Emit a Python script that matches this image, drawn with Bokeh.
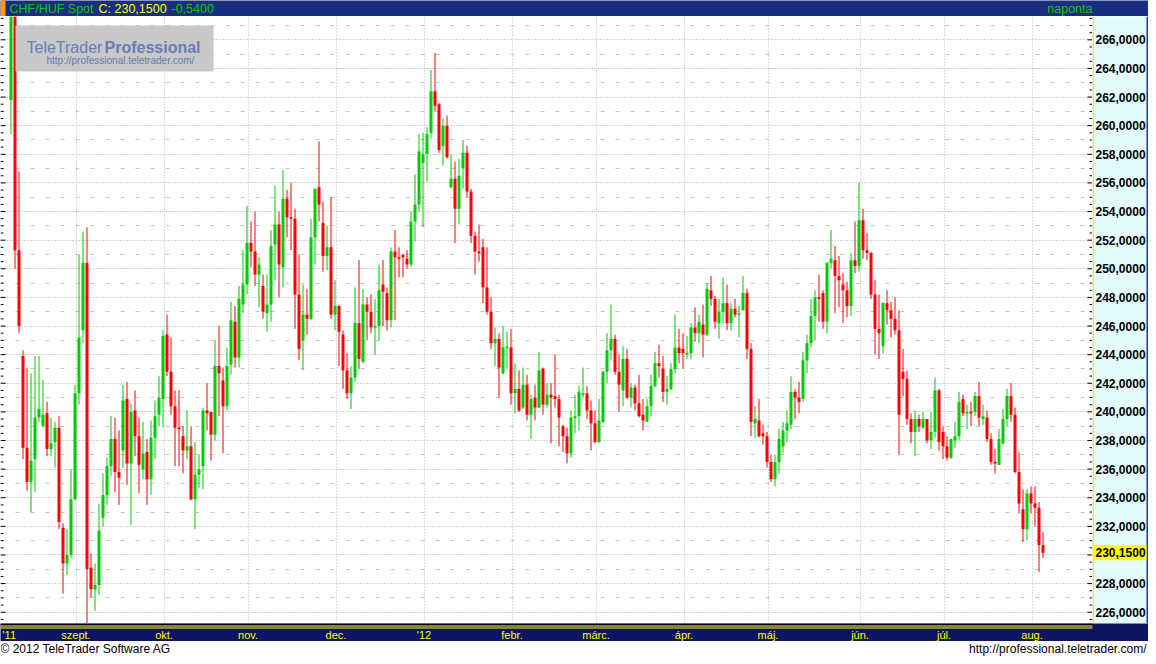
import numpy as np
from bokeh.plotting import figure
from bokeh.layouts import column, row
from bokeh.models import Range1d, ColumnDataSource, Grid, FixedTicker
from bokeh.core.properties import value
from bokeh.embed import file_html
from bokeh.resources import INLINE

# ---------------- data (CHF/HUF daily candles) ----------------
opens = [261.8, 270.0, 251.3, 243.9, 237.5, 235.1, 236.7, 239.6, 239.0, 239.9,
         237.4, 237.9, 238.9, 231.9, 229.4, 230.0, 233.9, 241.3, 245.7, 250.4,
         229.1, 227.6, 227.9, 232.6, 234.2, 236.2, 238.1, 235.8, 237.3, 240.9,
         236.4, 240.1, 238.3, 236.0, 237.2, 235.3, 238.2, 239.8, 240.9, 245.4,
         242.8, 240.4, 238.9, 238.3, 237.3, 237.6, 233.9, 235.6, 236.2, 240.1,
         240.0, 238.4, 243.2, 242.2, 240.4, 243.3, 246.3, 243.8, 247.5, 248.9,
         251.8, 251.2, 249.6, 248.8, 246.9, 247.5, 251.7, 253.1, 250.1, 254.9,
         253.6, 253.5, 248.2, 245.0, 246.8, 246.5, 252.2, 255.7, 253.2, 250.9,
         251.5, 246.8, 247.4, 245.4, 242.9, 241.3, 242.4, 246.2, 243.5, 247.5,
         247.0, 245.9, 246.0, 248.9, 248.3, 246.4, 251.2, 250.8, 251.0, 250.7,
         250.3, 253.3, 254.5, 257.4, 258.0, 259.5, 262.4, 261.5, 258.6, 260.0,
         255.7, 256.3, 254.2, 257.0, 258.1, 255.4, 252.3, 251.2, 251.5, 248.7,
         247.0, 244.8, 245.1, 242.7, 244.45, 244.5, 241.3, 241.6, 240.3, 241.9,
         239.8, 241.0, 240.3, 243.0, 240.5, 241.2, 241.1, 240.9, 239.0, 238.3,
         237.1, 239.56, 239.7, 241.2, 241.3, 240.1, 239.2, 237.9, 239.3, 242.8,
         244.3, 245.1, 242.8, 241.5, 243.7, 241.0, 241.7, 240.6, 239.8, 239.3,
         240.4, 241.8, 243.4, 243.0, 241.4, 241.6, 243.0, 244.5, 244.4, 244.0,
         244.1, 245.9, 245.5, 246.1, 245.4, 248.5, 247.9, 246.2, 247.0, 247.6,
         246.2, 247.2, 246.8, 247.1, 248.3, 244.4, 239.2, 239.4, 238.5, 238.3,
         236.5, 235.3, 236.5, 237.6, 238.7, 239.1, 241.4, 241.0, 240.9, 243.6,
         244.8, 246.7, 248.0, 248.3, 246.3, 250.4, 250.6, 249.5, 248.9, 248.5,
         247.4, 250.6, 250.2, 253.4, 251.3, 251.1, 248.2, 245.8, 244.6, 247.6,
         247.1, 246.5, 245.7, 242.8, 242.3, 239.5, 238.6, 239.5, 238.9, 239.5,
         238.0, 238.6, 241.5, 238.6, 237.6, 236.8, 238.0, 238.3, 240.9, 239.9,
         240.0, 240.0, 241.1, 239.5, 239.6, 238.1, 236.5, 236.3, 237.8, 239.5,
         241.1, 239.8, 235.8, 233.2, 231.8, 234.3, 233.6, 233.3, 230.69]
highs = [271.0, 273.0, 256.8, 244.3, 243.1, 242.7, 243.9, 243.9, 242.2, 240.7,
         239.6, 239.3, 239.7, 232.2, 231.8, 236.0, 241.9, 251.0, 252.6, 252.9,
         230.1, 229.4, 233.6, 235.7, 236.8, 239.7, 239.6, 238.7, 241.9, 242.1,
         240.6, 241.5, 239.6, 239.3, 238.1, 239.4, 240.8, 242.5, 245.7, 246.8,
         245.2, 241.5, 241.5, 239.0, 240.1, 239.0, 237.9, 237.0, 240.3, 242.0,
         240.0, 245.0, 246.0, 243.1, 244.5, 247.7, 247.4, 248.8, 251.3, 254.4,
         253.3, 254.0, 250.8, 249.6, 249.6, 252.7, 255.8, 254.0, 256.9, 255.5,
         256.0, 254.2, 251.0, 248.9, 248.6, 253.5, 255.6, 258.9, 254.7, 253.0,
         255.0, 249.2, 247.5, 245.7, 244.1, 243.2, 248.7, 250.6, 248.6, 248.0,
         248.2, 247.9, 250.3, 250.6, 248.7, 251.5, 252.7, 251.5, 251.0, 251.3,
         254.0, 256.6, 259.4, 259.5, 259.9, 263.9, 265.1, 261.6, 260.5, 260.7,
         258.0, 257.5, 257.7, 259.0, 258.6, 255.6, 252.6, 253.1, 252.1, 251.5,
         248.0, 245.9, 245.5, 246.0, 245.6, 245.8, 243.4, 242.9, 243.1, 242.6,
         241.2, 241.9, 244.2, 243.1, 242.0, 242.0, 244.0, 241.2, 239.1, 238.9,
         240.1, 241.2, 241.8, 243.1, 241.8, 240.8, 240.1, 240.9, 242.9, 245.5,
         247.5, 245.4, 244.0, 244.6, 244.4, 242.0, 241.9, 242.6, 240.9, 240.9,
         242.6, 244.2, 244.7, 243.9, 242.5, 243.4, 246.8, 245.8, 245.5, 245.3,
         246.2, 247.3, 246.8, 247.5, 249.0, 249.5, 248.1, 247.9, 249.4, 248.9,
         247.6, 247.9, 247.4, 249.5, 248.6, 244.8, 240.4, 240.9, 239.1, 238.6,
         237.0, 237.0, 238.8, 239.3, 240.1, 242.5, 241.6, 242.1, 244.2, 245.4,
         247.9, 248.5, 249.6, 248.5, 250.5, 252.7, 251.6, 250.9, 249.7, 249.1,
         251.1, 253.3, 256.0, 254.2, 252.5, 251.2, 249.2, 248.2, 247.7, 248.5,
         247.7, 248.0, 247.1, 244.4, 242.9, 239.9, 240.1, 239.8, 240.0, 239.5,
         240.0, 242.4, 241.6, 239.0, 238.3, 238.1, 239.3, 241.4, 241.2, 240.5,
         240.7, 241.4, 242.1, 240.5, 240.1, 238.5, 237.4, 238.8, 240.2, 241.6,
         242.0, 240.3, 237.2, 234.6, 234.6, 234.8, 234.8, 233.7, 231.6]
lows = [259.4, 250.0, 245.5, 236.7, 234.5, 233.0, 234.4, 239.3, 238.9, 236.9,
        236.9, 236.1, 231.8, 227.3, 228.6, 229.8, 233.8, 240.5, 244.8, 224.8,
        227.0, 226.1, 227.2, 232.0, 233.5, 235.5, 234.4, 233.5, 236.1, 234.9,
        232.1, 236.9, 234.3, 235.3, 233.5, 234.2, 236.7, 239.0, 238.9, 242.5,
        239.8, 236.2, 236.2, 235.7, 236.7, 233.8, 231.8, 234.7, 234.6, 238.7,
        236.6, 238.0, 239.7, 237.1, 240.1, 242.6, 243.1, 243.1, 246.9, 248.2,
        250.1, 248.8, 247.3, 246.5, 245.6, 246.3, 249.2, 248.0, 248.7, 252.2,
        251.3, 245.8, 243.6, 242.9, 245.4, 246.4, 250.3, 253.3, 249.8, 249.9,
        246.5, 245.7, 243.2, 241.6, 240.9, 240.2, 242.1, 243.0, 243.4, 245.0,
        245.5, 244.0, 245.0, 246.0, 245.7, 245.9, 246.4, 249.4, 249.4, 250.0,
        250.1, 251.9, 254.0, 252.9, 256.1, 259.1, 261.0, 258.1, 257.2, 257.7,
        255.6, 251.8, 253.1, 255.6, 255.0, 251.8, 249.6, 250.5, 247.6, 246.8,
        244.4, 243.2, 241.0, 242.6, 243.0, 240.5, 239.9, 240.0, 240.2, 239.4,
        238.1, 239.4, 240.3, 239.8, 240.3, 237.8, 240.3, 237.6, 237.2, 236.4,
        236.8, 238.5, 238.7, 241.0, 239.5, 237.3, 237.8, 237.8, 239.2, 242.0,
        243.6, 242.6, 240.0, 240.4, 240.9, 240.3, 240.1, 239.6, 238.7, 239.3,
        239.7, 241.7, 242.4, 240.7, 240.5, 241.5, 242.7, 243.4, 243.0, 243.7,
        243.7, 244.9, 244.8, 243.8, 245.3, 247.4, 245.8, 245.1, 246.2, 245.7,
        245.7, 246.6, 245.2, 247.1, 243.7, 238.3, 238.2, 238.2, 237.7, 236.1,
        235.1, 234.8, 235.7, 237.1, 237.9, 238.8, 239.5, 239.9, 240.7, 242.7,
        244.5, 245.0, 246.3, 245.8, 245.5, 250.0, 246.9, 247.3, 246.2, 246.6,
        246.7, 249.7, 249.8, 250.7, 250.6, 247.9, 244.0, 243.7, 244.1, 246.1,
        245.2, 245.4, 237.0, 241.1, 239.1, 237.8, 236.9, 238.6, 238.8, 237.8,
        237.4, 238.2, 237.3, 236.7, 236.6, 236.7, 237.5, 238.0, 239.7, 238.8,
        239.0, 239.7, 239.0, 239.1, 237.9, 236.3, 235.7, 236.3, 237.7, 239.0,
        239.3, 235.7, 232.9, 230.9, 231.0, 232.9, 232.0, 228.8, 229.8]
closes = [269.5, 251.3, 246.0, 237.5, 235.1, 236.6, 239.6, 240.2, 239.8, 237.4,
          237.8, 238.9, 232.3, 229.4, 230.0, 233.9, 241.3, 245.2, 250.4, 229.0,
          227.6, 227.9, 231.7, 234.2, 236.2, 238.1, 235.8, 235.4, 240.8, 236.4,
          240.0, 238.3, 236.3, 237.1, 235.3, 238.2, 239.7, 241.0, 245.3, 242.8,
          240.4, 238.9, 238.8, 237.3, 237.6, 233.9, 235.6, 236.0, 240.1, 239.9,
          238.4, 243.2, 242.7, 240.4, 243.2, 246.4, 243.8, 247.9, 248.9, 251.8,
          251.2, 249.6, 250.3, 247.0, 247.5, 251.6, 253.1, 250.3, 254.9, 253.6,
          253.5, 248.2, 244.4, 246.8, 246.5, 252.2, 255.6, 254.5, 250.9, 251.5,
          246.8, 247.4, 245.6, 242.9, 241.3, 242.4, 246.2, 243.7, 247.5, 247.0,
          245.9, 246.0, 248.5, 248.4, 246.4, 251.2, 250.8, 250.7, 250.8, 250.3,
          253.3, 254.5, 258.2, 258.0, 259.4, 262.4, 261.4, 258.3, 260.0, 257.8,
          256.3, 254.2, 256.5, 258.1, 255.4, 252.3, 251.2, 251.1, 248.7, 247.0,
          244.8, 245.1, 243.1, 244.5, 244.55, 241.3, 241.6, 240.1, 241.9, 239.8,
          240.9, 240.3, 242.9, 240.5, 241.2, 241.0, 240.9, 239.6, 238.3, 237.1,
          239.6, 239.7, 241.4, 241.3, 240.1, 239.2, 237.9, 239.4, 242.8, 244.3,
          245.1, 242.8, 241.9, 243.7, 241.0, 241.7, 240.6, 239.7, 239.4, 240.4,
          241.8, 243.4, 243.2, 241.4, 241.6, 243.0, 244.5, 244.1, 244.1, 244.1,
          245.9, 245.5, 246.3, 245.4, 248.6, 247.9, 246.3, 247.0, 247.6, 246.2,
          247.2, 246.8, 246.9, 248.3, 244.4, 239.3, 239.5, 238.3, 238.3, 236.5,
          235.3, 236.5, 238.1, 238.7, 239.2, 241.4, 241.0, 240.7, 243.6, 244.8,
          246.7, 248.0, 247.9, 246.3, 250.4, 250.7, 249.5, 249.2, 248.5, 247.4,
          250.6, 250.2, 253.4, 251.3, 251.1, 248.2, 245.8, 245.5, 247.6, 247.1,
          246.5, 245.7, 239.8, 242.3, 239.5, 238.6, 239.5, 239.0, 239.5, 238.0,
          238.6, 241.5, 237.9, 237.6, 236.8, 238.1, 238.3, 240.7, 239.9, 240.0,
          239.9, 241.1, 239.6, 239.7, 238.1, 236.5, 236.4, 238.1, 239.5, 241.1,
          239.8, 235.8, 233.6, 231.8, 234.3, 233.6, 233.3, 230.69, 230.15]

month_labels = ["szept.", "okt.", "nov.", "dec.", "'12", "febr.", "márc.",
                "ápr.", "máj.", "jún.", "júl.", "aug."]
month_start_idx = [16, 38, 59, 81, 103, 125, 146, 168, 189, 212, 233, 255]
year_label = "'11"
price_ticks = list(range(226, 268, 2))
instrument = "CHF/HUF Spot"
period_label = "naponta"
copyright_text = "\u00a9 2012 TeleTrader Software AG"
site_text = "http://professional.teletrader.com/"
logo_a, logo_b = "TeleTrader", "Professional"

# ---------------- layout constants ----------------
W = 1148
MAIN_W, PANEL_W = 1092, 56
HEAD_H, MAIN_H, BAR_H, FOOT_H = 16, 607, 18, 15
Y_TOP = 267.63
PPU = 14.31
Y_BOT = Y_TOP - MAIN_H / PPU
BAR_PX = 4.0
X0 = -10.5 / BAR_PX
X1 = X0 + MAIN_W / BAR_PX

FONT = value("Liberation Sans")
GREEN, RED, YELLOW = "#00cc00", "#ff0000", "#ffff00"
NAVY_HEAD, NAVY_BAR = "#1b2d80", "#0d1562"


def px2x(px):
    return X0 + px / BAR_PX


def px2y(px):
    return Y_TOP - px / PPU


def make_fig(w, h, xr, yr, bg):
    f = figure(width=w, height=h, x_range=xr, y_range=yr, toolbar_location=None,
               output_backend="svg", x_axis_type=None, y_axis_type=None,
               min_border=0)
    f.outline_line_color = None
    f.background_fill_color = bg
    f.border_fill_color = bg
    return f


# ---------------- header ----------------
head = make_fig(W, HEAD_H, Range1d(0, W), Range1d(HEAD_H, 0), NAVY_HEAD)
head.quad(left=[0], right=[5], top=[0], bottom=[HEAD_H], fill_color="#ff9900", line_color=None)
chg = closes[-1] - closes[-2]
close_txt = "C: " + f"{closes[-1]:.4f}".replace(".", ",")
chg_txt = f"{chg:.4f}".replace(".", ",")
hdr = dict(text_font=FONT, text_font_size="12.5px", text_baseline="middle")
head.text(x=[9], y=[8], text=[instrument], text_color=GREEN, **hdr)
head.text(x=[98], y=[8], text=[close_txt], text_color=YELLOW, **hdr)
head.text(x=[171], y=[8], text=[chg_txt], text_color=GREEN, **hdr)
head.text(x=[1092], y=[8], text=[period_label], text_color=GREEN, text_align="right", **hdr)

# ---------------- main plot ----------------
yr = Range1d(Y_BOT, Y_TOP)
main = make_fig(MAIN_W, MAIN_H, Range1d(X0, X1), yr, "white")

minor = [t + 1 for t in price_ticks] + [price_ticks[0] - 1]
main.add_layout(Grid(dimension=1, ticker=FixedTicker(ticks=price_ticks, minor_ticks=minor),
                     grid_line_color="#a4a4a4", grid_line_dash="1 2",
                     minor_grid_line_color="#c4c4c4", minor_grid_line_dash="4 11"))
main.add_layout(Grid(dimension=0, ticker=FixedTicker(ticks=[m + 0.25 for m in month_start_idx]),
                     grid_line_color="#b8b8b8", grid_line_dash="1 2"))

o = np.array(opens)
c = np.array(closes)
h = np.array(highs)
l = np.array(lows)
idx = np.arange(len(c))
col = np.where(c >= o, GREEN, RED)
top = np.maximum(o, c)
bot = np.minimum(o, c)
mid = (top + bot) / 2
min_h = 1.6 / PPU
thin = (top - bot) < min_h
top = np.where(thin, mid + min_h / 2, top)
bot = np.where(thin, mid - min_h / 2, bot)
src = ColumnDataSource(dict(x=idx, h=h, l=l, top=top, bot=bot, col=col))
main.segment(x0="x", y0="h", x1="x", y1="l", line_color="col", line_width=1, source=src)
main.vbar(x="x", width=3 / BAR_PX, top="top", bottom="bot", fill_color="col",
          line_color=None, source=src)

# edge ticks
tv = np.arange(225.5, 267.6, 0.5)
tl = np.where(np.isclose(tv % 2, 0), 5, 3) / BAR_PX
main.segment(x0=np.full(len(tv), X0), y0=tv, x1=X0 + tl, y1=tv, line_color="black", line_width=1)
main.segment(x0=X1 - tl, y0=tv, x1=np.full(len(tv), X1), y1=tv, line_color="black", line_width=1)

# logo box
main.quad(left=[px2x(15)], right=[px2x(213)], top=[px2y(9)], bottom=[px2y(55)],
          fill_color="#c8c8c8", line_color=None)
main.text(x=[px2x(26)], y=[px2y(31)], text=[logo_a], text_color="#6a7bb5", text_font=FONT,
          text_font_size="16px", text_baseline="alphabetic")
main.text(x=[px2x(104)], y=[px2y(31)], text=[logo_b], text_color="#6a7bb5", text_font=FONT,
          text_font_size="16px", text_font_style="bold", text_baseline="alphabetic")
main.text(x=[px2x(46)], y=[px2y(44)], text=[site_text], text_color="#6a7bb5", text_font=FONT,
          text_font_size="10px", text_baseline="alphabetic")

# ---------------- right price panel ----------------
panel = make_fig(PANEL_W, MAIN_H, Range1d(0, PANEL_W), yr, "#e3fbfb")
panel.quad(left=[0], right=[1], top=[Y_TOP], bottom=[Y_BOT], fill_color="#e8c440", line_color=None)
panel.quad(left=[PANEL_W - 2], right=[PANEL_W], top=[Y_TOP], bottom=[Y_BOT],
           fill_color="#1a3aa8", line_color=None)
shown = [t for t in price_ticks if abs(t - closes[-1]) > 1.0]
panel.text(x=[3] * len(shown), y=shown, text=[f"{t},0000" for t in shown], text_color="black",
           text_font=FONT, text_font_size="12px", text_font_style="bold", text_baseline="middle")
mh = 15 / PPU / 2
panel.quad(left=[1], right=[PANEL_W - 2], top=[closes[-1] + mh], bottom=[closes[-1] - mh],
           fill_color=YELLOW, line_color=None)
panel.text(x=[3], y=[closes[-1]], text=[f"{closes[-1]:.4f}".replace(".", ",")], text_color="black",
           text_font=FONT, text_font_size="12px", text_font_style="bold", text_baseline="middle")

# ---------------- bottom month bar ----------------
bar = make_fig(W, BAR_H, Range1d(X0, X0 + W / BAR_PX), Range1d(BAR_H, 0), NAVY_BAR)
bar.quad(left=[X0], right=[X1], top=[0], bottom=[2], fill_color="black", line_color=None)
bar.quad(left=[X0, X0], right=[X1, X1], top=[2, 4], bottom=[3, 5], fill_color=YELLOW, line_color=None)
bar.text(x=[m + 0.25 for m in month_start_idx], y=[11.5] * len(month_labels), text=month_labels,
         text_color=YELLOW, text_font=FONT, text_font_size="11px", text_align="center",
         text_baseline="middle")
bar.text(x=[px2x(2)], y=[11.5], text=[year_label], text_color=YELLOW, text_font=FONT,
         text_font_size="11px", text_baseline="middle")

# ---------------- footer ----------------
foot = make_fig(W, FOOT_H, Range1d(0, W), Range1d(FOOT_H, 0), "white")
ftr = dict(text_font=FONT, text_font_size="12px", text_baseline="middle", text_color="black")
foot.text(x=[0], y=[7.5], text=[copyright_text], **ftr)
foot.text(x=[W - 2], y=[7.5], text=[site_text], text_align="right", **ftr)

layout = column(head, row(main, panel, spacing=0), bar, foot, spacing=0)
open("out.html", "w").write(file_html(layout, INLINE))
